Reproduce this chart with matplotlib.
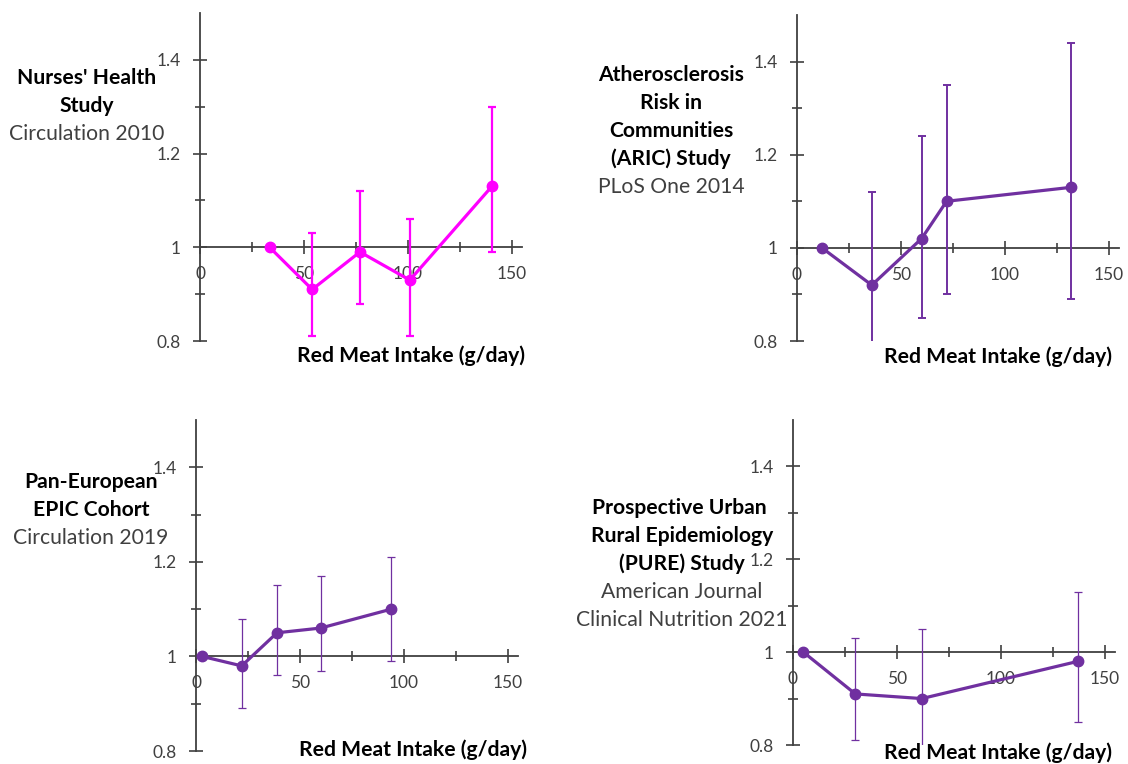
import numpy as np
import matplotlib
matplotlib.use("Agg")
import matplotlib.pyplot as plt

plt.rcParams["font.family"] = ["Lato", "DejaVu Sans"]

"Data (read off the picture)"
nhs_x = [33.5, 54, 77, 101, 140.5]
nhs_rr = [1.0, 0.91, 0.99, 0.93, 1.13]
nhs_lo = [np.nan, 0.81, 0.88, 0.81, 0.99]
nhs_hi = [np.nan, 1.03, 1.12, 1.06, 1.30]

aric_x = [12, 36, 60, 72, 132]
aric_rr = [1.0, 0.92, 1.02, 1.10, 1.13]
aric_lo = [np.nan, 0.78, 0.85, 0.90, 0.89]
aric_hi = [np.nan, 1.12, 1.24, 1.35, 1.44]

epic_x = [3, 22, 39, 60, 94]
epic_rr = [1.0, 0.98, 1.05, 1.06, 1.10]
epic_lo = [np.nan, 0.89, 0.96, 0.97, 0.99]
epic_hi = [np.nan, 1.08, 1.15, 1.17, 1.21]

pure_x = [5, 30, 62, 137]
pure_rr = [1.0, 0.91, 0.90, 0.98]
pure_lo = [np.nan, 0.81, 0.78, 0.85]
pure_hi = [np.nan, 1.03, 1.05, 1.13]

x_ticks = [0, 50, 100, 150]
x_labels = ["0", "50", "100", "150"]
y_ticks = [0.8, 1.0, 1.2, 1.4]
y_labels = ["0.8", "1", "1.2", "1.4"]
x_label = "Red Meat Intake (g/day)"

"Figure properties"
W, H = 1128, 764
fig = plt.figure(figsize=(W / 100, H / 100), dpi=100)
Axis_Color = "#404040"
Tick_Color = "#404040"
Text_Color = "#404040"
Magenta = "#FF00FF"
Purple = "#7030A0"


def make_axes(left, top, bottom, width=322):
    ax = fig.add_axes([left / W, 1 - bottom / H, width / W, (bottom - top) / H])
    ax.set_xlim(0, 155)
    ax.set_ylim(0.8, 1.5)
    ax.patch.set_alpha(0)
    ax.spines["top"].set_visible(False)
    ax.spines["right"].set_visible(False)
    ax.spines["bottom"].set_position(("data", 1))
    for s in ["left", "bottom"]:
        ax.spines[s].set_color(Axis_Color)
        ax.spines[s].set_linewidth(1.3)
    ax.set_xticks(x_ticks)
    ax.set_xticklabels(x_labels)
    ax.set_xticks([25, 75, 125], minor=True)
    ax.set_yticks(y_ticks)
    ax.set_yticklabels(y_labels)
    ax.set_yticks([0.9, 1.1, 1.3], minor=True)
    ax.tick_params(which="major", direction="inout", length=10, width=1.2,
                   color=Axis_Color, labelcolor=Tick_Color, labelsize=12.5)
    ax.tick_params(axis="x", which="major", pad=8.5)
    ax.tick_params(axis="y", which="major", pad=9)
    ax.tick_params(which="minor", direction="inout", length=7, width=1.2,
                   color=Axis_Color)
    return ax


def draw(ax, x, rr, lo, hi, color, lw, elw, cap):
    x = np.array(x, float)
    rr = np.array(rr, float)
    lo = np.array(lo, float)
    hi = np.array(hi, float)
    ax.errorbar(x[1:], rr[1:], yerr=[rr[1:] - lo[1:], hi[1:] - rr[1:]],
                fmt="none", ecolor=color, elinewidth=elw, capsize=cap,
                capthick=elw, zorder=3)
    ax.plot(x, rr, color=color, linewidth=lw, marker="o", markersize=7.5,
            zorder=4)


def titles(cx, y0, bold_lines, normal_lines):
    y = y0
    for t in bold_lines:
        fig.text(cx / W, 1 - y / H, t, ha="center", va="center",
                 fontsize=15.2, fontweight="bold", color="black")
        y += 28
    for t in normal_lines:
        fig.text(cx / W, 1 - y / H, t, ha="center", va="center",
                 fontsize=15.2, color=Text_Color)
        y += 28


def xlabel(right, y):
    fig.text(right / W, 1 - y / H, x_label, ha="right", va="center",
             fontsize=15.2, fontweight="bold", color="black")


ax1 = make_axes(200, 13, 341)
draw(ax1, nhs_x, nhs_rr, nhs_lo, nhs_hi, Magenta, 2.3, 1.6, 3)
titles(87, 78, ["Nurses' Health", "Study"], ["Circulation 2010"])
xlabel(525, 356)

ax2 = make_axes(797, 15, 341)
draw(ax2, aric_x, aric_rr, aric_lo, aric_hi, Purple, 2.3, 1.4, 3)
titles(671, 75, ["Atherosclerosis", "Risk in", "Communities", "(ARIC) Study"],
       ["PLoS One 2014"])
xlabel(1112, 357)

ax3 = make_axes(196, 420, 751)
draw(ax3, epic_x, epic_rr, epic_lo, epic_hi, Purple, 2.3, 0.9, 3)
titles(91, 482, ["Pan-European", "EPIC Cohort"], ["Circulation 2019"])
xlabel(527, 750)

ax4 = make_axes(793, 420, 745)
draw(ax4, pure_x, pure_rr, pure_lo, pure_hi, Purple, 2.3, 0.9, 3)
titles(682, 508, ["Prospective Urban ", "Rural Epidemiology", "(PURE) Study"],
       ["American Journal", "Clinical Nutrition 2021"])
xlabel(1112, 753)

"Save figure"
plt.savefig("out.png", dpi=100)
